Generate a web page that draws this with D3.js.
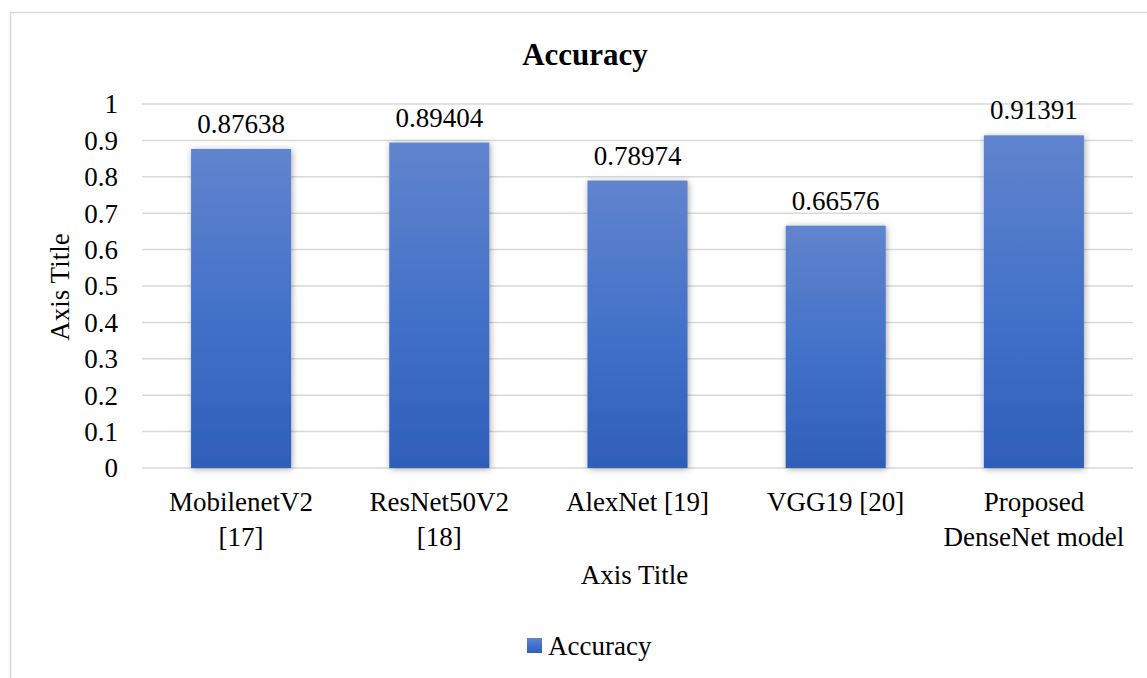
<!DOCTYPE html>
<html>
<head>
<meta charset="utf-8">
<script src="https://cdn.jsdelivr.net/npm/d3@7"></script>
<style>
  body { margin: 0; background: #fff; }
  svg text { font-family: "Liberation Serif", "Times New Roman", serif; fill: #000; }
</style>
</head>
<body>
<svg id="chart"></svg>
<script>
const models = ["MobilenetV2 [17]", "ResNet50V2 [18]", "AlexNet [19]", "VGG19 [20]", "Proposed DenseNet model"];
const modelLines = [["MobilenetV2", "[17]"], ["ResNet50V2", "[18]"], ["AlexNet [19]"], ["VGG19 [20]"], ["Proposed", "DenseNet model"]];
const accuracy = [0.87638, 0.89404, 0.78974, 0.66576, 0.91391];
const yTicks = [0, 0.1, 0.2, 0.3, 0.4, 0.5, 0.6, 0.7, 0.8, 0.9, 1];

const W = 1147, H = 678;
const margin = { top: 104, right: 14, bottom: 210, left: 142 };
const width = W - margin.left - margin.right;
const height = H - margin.top - margin.bottom;
const fontSize = "27px";

const svg = d3.select("#chart").attr("width", W).attr("height", H);

// outer border
svg.append("rect")
  .attr("x", 10.5).attr("y", 12.5)
  .attr("width", 1160).attr("height", 700)
  .attr("fill", "none").attr("stroke", "#d9d9d9").attr("stroke-width", 1.5);

const defs = svg.append("defs");
const grad = defs.append("linearGradient")
  .attr("id", "barGrad").attr("x1", 0).attr("y1", 0).attr("x2", 0).attr("y2", 1);
grad.append("stop").attr("offset", "0%").attr("stop-color", "#6184cd");
grad.append("stop").attr("offset", "50%").attr("stop-color", "#4472c9");
grad.append("stop").attr("offset", "100%").attr("stop-color", "#2e5fb9");

const shadow = defs.append("filter").attr("id", "shadow")
  .attr("x", "-20%").attr("y", "-10%").attr("width", "140%").attr("height", "120%");
shadow.append("feDropShadow")
  .attr("dx", 1).attr("dy", 1).attr("stdDeviation", 3)
  .attr("flood-color", "#000").attr("flood-opacity", 0.35);

const g = svg.append("g").attr("transform", `translate(${margin.left},${margin.top})`);

const x = d3.scaleBand().domain(models).range([0, width]).paddingInner(0.495).paddingOuter(0.2475);
const y = d3.scaleLinear().domain([0, 1]).range([height, 0]);

// gridlines
g.append("g")
  .selectAll("line")
  .data(yTicks)
  .enter()
  .append("line")
  .attr("x1", 0).attr("x2", width)
  .attr("y1", d => y(d)).attr("y2", d => y(d))
  .attr("stroke", "#d9d9d9").attr("stroke-width", 1.5);

// y tick labels
g.append("g")
  .selectAll("text")
  .data(yTicks)
  .enter()
  .append("text")
  .attr("x", -24)
  .attr("y", d => y(d))
  .attr("dy", "0.35em")
  .attr("text-anchor", "end")
  .style("font-size", fontSize)
  .text(d => d3.format("~g")(d));

// bars
g.append("g")
  .selectAll("rect")
  .data(models)
  .enter()
  .append("rect")
  .attr("x", d => x(d))
  .attr("y", (d, i) => y(accuracy[i]))
  .attr("width", x.bandwidth())
  .attr("height", (d, i) => height - y(accuracy[i]))
  .attr("fill", "url(#barGrad)")
  .attr("filter", "url(#shadow)");

// value labels
g.append("g")
  .selectAll("text")
  .data(models)
  .enter()
  .append("text")
  .attr("x", d => x(d) + x.bandwidth() / 2)
  .attr("y", (d, i) => y(accuracy[i]) - 16)
  .attr("text-anchor", "middle")
  .style("font-size", fontSize)
  .text((d, i) => accuracy[i]);

// x category labels
const xl = g.append("g")
  .selectAll("text")
  .data(models)
  .enter()
  .append("text")
  .attr("x", d => x(d) + x.bandwidth() / 2)
  .attr("y", height + 43)
  .attr("text-anchor", "middle")
  .style("font-size", fontSize);
xl.each(function (d, i) {
  const t = d3.select(this);
  modelLines[i].forEach((line, k) => {
    t.append("tspan")
      .attr("x", x(d) + x.bandwidth() / 2)
      .attr("dy", k === 0 ? 0 : 35)
      .text(line);
  });
});

// title
svg.append("text")
  .attr("x", 585).attr("y", 65)
  .attr("text-anchor", "middle")
  .style("font-size", "31px").style("font-weight", "bold")
  .text("Accuracy");

// axis titles
svg.append("text")
  .attr("x", margin.left + width / 2 - 3).attr("y", 584)
  .attr("text-anchor", "middle")
  .style("font-size", fontSize)
  .text("Axis Title");

svg.append("text")
  .attr("transform", `translate(69,${margin.top + height / 2 + 1}) rotate(-90)`)
  .attr("text-anchor", "middle")
  .style("font-size", fontSize)
  .text("Axis Title");

// legend
const legend = svg.append("g").attr("transform", "translate(527,638)");
legend.append("rect")
  .attr("width", 15).attr("height", 15)
  .attr("fill", "url(#barGrad)");
legend.append("text")
  .attr("x", 21).attr("y", 17)
  .style("font-size", fontSize)
  .text("Accuracy");
</script>
</body>
</html>
